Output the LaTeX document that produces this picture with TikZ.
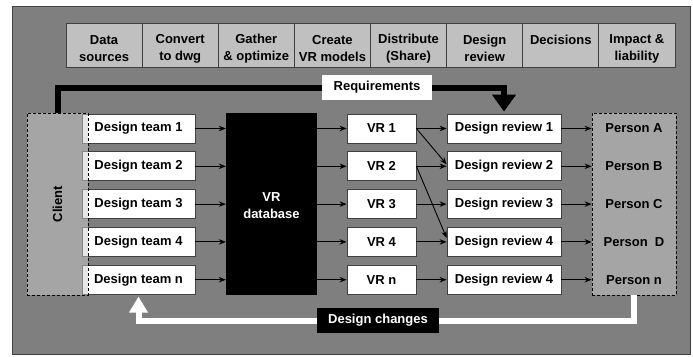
\documentclass[tikz,border=0pt]{standalone}
\usepackage{fontspec}
\setmainfont{Liberation Sans}
\usetikzlibrary{arrows.meta,calc}
\definecolor{panelgray}{HTML}{7F7F7F}
\definecolor{hdrgray}{HTML}{C0C0C0}
\definecolor{boxline}{HTML}{404040}
\definecolor{contfill}{HTML}{CCCCCC}
\tikzset{
  hdr/.style={draw=boxline, line width=0.8pt, fill=hdrgray, minimum width=76.1pt, minimum height=44pt, inner sep=0pt},
  hdrtext/.style={inner sep=0pt, align=center},
  rowbox/.style={draw=boxline, line width=0.8pt, fill=white, minimum height=29pt, inner sep=0pt},
  dtbox/.style={rowbox, minimum width=113pt},
  vrbox/.style={rowbox, minimum width=69pt},
  drbox/.style={rowbox, minimum width=114pt},
  container/.style={draw=black, line width=0.8pt, dash pattern=on 3pt off 2pt, fill=contfill, fill opacity=0.5, minimum width=#1, minimum height=182pt, inner sep=0pt},
  arr/.style={draw=black, line width=0.9pt, -{Stealth[length=7pt,width=5.5pt]}},
  lbl/.style={minimum height=25pt, inner sep=0pt}
}
\begin{document}
\begin{tikzpicture}[x=1pt, y=-1pt, font=\fontsize{13}{17}\selectfont\bfseries]
\useasboundingbox[fill=white] (0,0) rectangle (693,356);
% panel
\draw[draw=boxline, fill=panelgray, line width=1pt] (12,6) rectangle (690,354);
% header
\foreach \k/\x/\t in {1/104.06/{Data\\sources}, 2/180.19/{Convert\\to dwg}, 3/256.31/{Gather\\\& optimize}, 4/332.44/{Create\\VR models}, 5/408.56/{Distribute\\(Share)}, 6/484.69/{Design\\review}, 7/560.81/{Decisions\\\phantom{D}}, 8/636.94/{Impact \&\\liability}}{
  \node[hdr] (h\k) at (\x,45) {};
  \node[hdrtext] (ht\k) at ([yshift=-3.5pt]h\k.center) {\t};
}
% design team boxes
\foreach \i/\y/\t in {1/128.5/1, 2/166.3/2, 3/204.1/3, 4/241.9/4, 5/279.7/n}
  \node[dtbox] (dt\i) at (138.5,\y) {Design team \t};
% client container
\node[container=61pt] (client) at (57.5,204) {};
\node[rotate=90] (clienttext) at (client.center) {Client};
% database
\node[fill=black, minimum width=91pt, minimum height=182pt, inner sep=0pt] (db) at (271.5,204) {};
\node[text=white, align=center, inner sep=0pt] (dbtext) at ([yshift=-2pt]db.center) {VR\\database};
% VR and review boxes
\foreach \i/\y/\t/\r in {1/128.5/1/1, 2/166.3/2/2, 3/204.1/3/3, 4/241.9/4/4, 5/279.7/n/4}{
  \node[vrbox] (vr\i) at (381.5,\y) {VR \t};
  \node[drbox] (dr\i) at (504,\y) {Design review \r};
}
% person container
\node[container=84pt] (person) at (634,204) {};
\foreach \i/\y/\p in {1/128.5/A, 2/166.3/B, 3/204.1/C, 4/241.9/{\ D}, 5/279.7/n}
  \node (p\i) at (634,\y) {Person \p};
% connectors
\foreach \i in {1,...,5}{
  \draw[arr] (dt\i.east) -- (dt\i.east -| db.west);
  \draw[arr] (vr\i.west -| db.east) -- (vr\i.west);
  \draw[arr] (vr\i.east) -- (dr\i.west);
  \draw[arr] (dr\i.east) -- (dr\i.east -| person.west);
}
\draw[arr] (vr1.east) -- ([yshift=2pt]dr2.west);
\draw[arr] (vr2.east) -- ([yshift=4pt]dr4.west);
% requirements
\coordinate (rqc) at (57.5,88);
\draw[line width=6pt, shorten >=2pt, -{Triangle[length=17pt,width=23pt]}] (client.north) -- (rqc) -| (dr1.north);
\node[lbl, fill=white, minimum width=110pt] (req) at (377,87.5) {Requirements};
% design changes
\coordinate (chc) at (378,320.5);
\draw[white, line width=6pt, shorten >=2pt, -{Triangle[length=16pt,width=18pt]}] (person.south) |- (dt5.south |- chc) -- (dt5.south);
\node[lbl, fill=black, text=white, minimum width=122pt] (chg) at (chc) {Design changes};
\end{tikzpicture}
\end{document}
